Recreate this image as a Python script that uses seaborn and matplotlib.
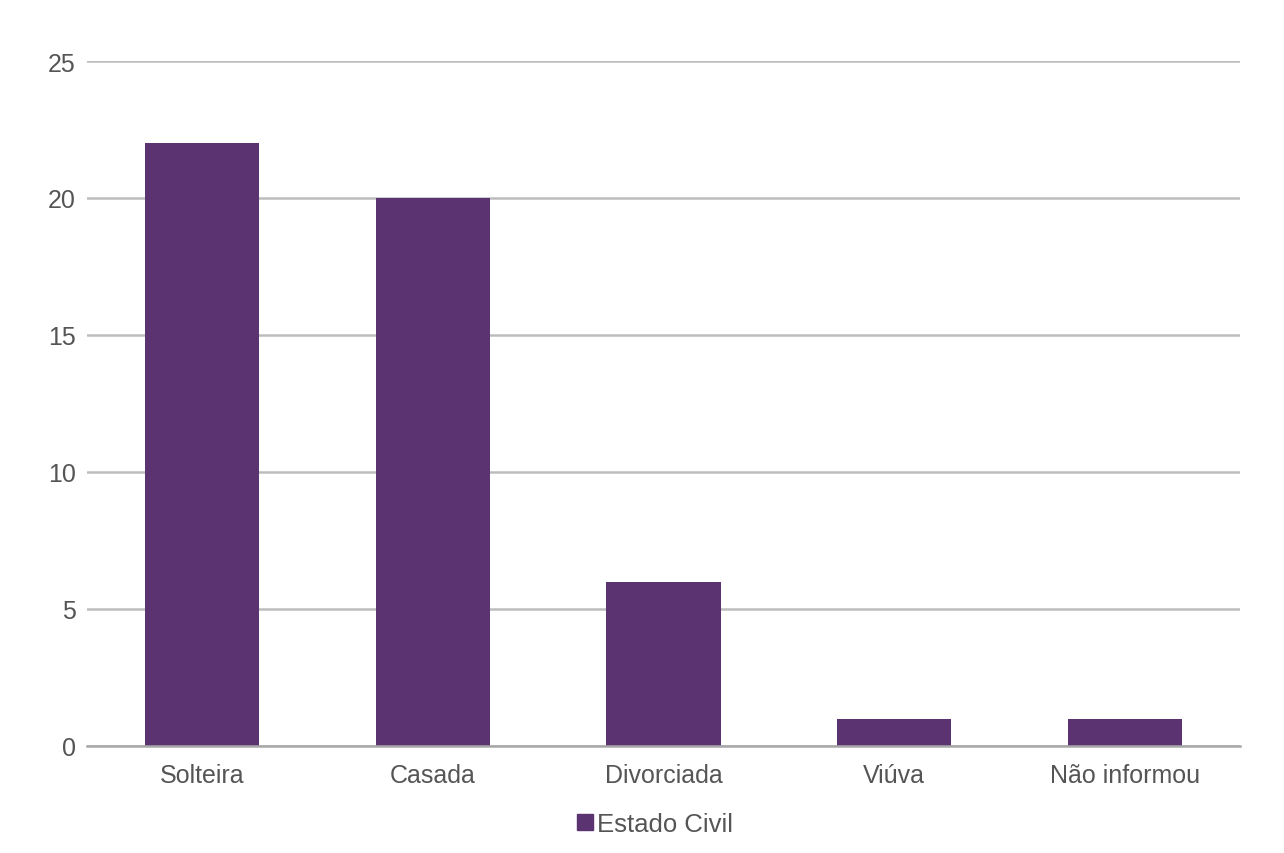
import matplotlib
matplotlib.use("Agg")
import matplotlib.pyplot as plt
import seaborn as sns
import pandas as pd
from matplotlib.patches import Patch

categories = ["Solteira", "Casada", "Divorciada", "Viúva", "Não informou"]
values = [22, 20, 6, 1, 1]
series_name = "Estado Civil"
yticks = [0, 5, 10, 15, 20, 25]

sns.set_style("white")
plt.rcParams['font.family'] = ['Liberation Sans', 'DejaVu Sans']

df = pd.DataFrame({"cat": categories, "val": values})
color = "#5b3370"

fig = plt.figure(figsize=(12.84, 8.54), dpi=100)
ax = fig.add_axes([0.0678, 0.1253, 0.8979, 0.8021])
sns.barplot(data=df, x="cat", y="val", color=color, saturation=1, width=0.495,
            linewidth=0, edgecolor="none", ax=ax, zorder=3)
ax.set_xlim(-0.5, 4.5)
ax.set_ylim(0, 25)
ax.set_yticks(yticks)
ax.grid(axis="y", color="#bdbdbd", linewidth=1.8, zorder=0)
ax.set_axisbelow(True)
for s in ["top", "right", "left"]:
    ax.spines[s].set_visible(False)
ax.spines["bottom"].set_color("#a8a8a8")
ax.spines["bottom"].set_linewidth(1.8)
ax.spines["bottom"].set_zorder(4)
ax.set_xlabel("")
ax.set_ylabel("")
ax.tick_params(axis="both", length=0, labelsize=18, labelcolor="#555555")
ax.tick_params(axis="y", pad=8)
ax.tick_params(axis="x", pad=12)

fig.legend(handles=[Patch(color=color, label=series_name)], loc="center",
           bbox_to_anchor=(655 / 1284, 1 - 825 / 854), frameon=False, fontsize=18.5,
           handlelength=0.6, handleheight=0.6, handletextpad=0.15, labelcolor="#555555")

fig.savefig("out.png", dpi=100)
